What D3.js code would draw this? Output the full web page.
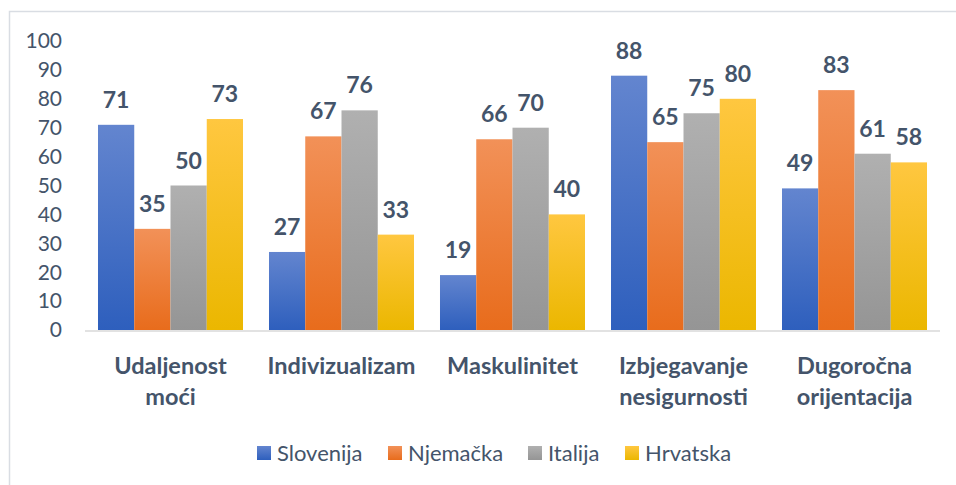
<!DOCTYPE html>
<html lang="hr">
<head>
<meta charset="UTF-8">
<title>Hofstede dimenzije</title>
<script src="https://d3js.org/d3.v7.min.js"></script>
<style>
  body { margin: 0; background: #fff; }
  text { font-family: Lato, "Open Sans", sans-serif; fill: #44546a; }
</style>
</head>
<body>
<svg id="chart"></svg>
<script>
const categories = [["Udaljenost", "moći"], ["Indivizualizam"], ["Maskulinitet"], ["Izbjegavanje", "nesigurnosti"], ["Dugoročna", "orijentacija"]];
const seriesNames = ["Slovenija", "Njemačka", "Italija", "Hrvatska"];
const slovenija = [71, 27, 19, 88, 49];
const njemacka = [35, 67, 66, 65, 83];
const italija = [50, 76, 70, 75, 61];
const hrvatska = [73, 33, 40, 80, 58];
const yTicks = [0, 10, 20, 30, 40, 50, 60, 70, 80, 90, 100];

const seriesValues = [slovenija, njemacka, italija, hrvatska];
// gradient top/bottom per series
const colors = [
  ["#6385cf", "#2e5fbd"],
  ["#f29158", "#e86c1c"],
  ["#b0b0b0", "#959595"],
  ["#ffc740", "#ebb700"]
];

const width = 956, height = 485;
const svg = d3.select("#chart").attr("width", width).attr("height", height);

// frame (only top/left visible)
svg.append("rect")
  .attr("x", 9.5).attr("y", 11.5)
  .attr("width", 1000).attr("height", 600)
  .attr("fill", "none").attr("stroke", "#d9dde3").attr("stroke-width", 1.5);

const defs = svg.append("defs");
colors.forEach((c, i) => {
  const g = defs.append("linearGradient").attr("id", "grad" + i)
    .attr("x1", 0).attr("y1", 0).attr("x2", 0).attr("y2", 1);
  g.append("stop").attr("offset", "0%").attr("stop-color", c[0]);
  g.append("stop").attr("offset", "100%").attr("stop-color", c[1]);
});

const x0 = d3.scaleBand().domain(d3.range(categories.length)).range([85, 940]).paddingInner(0.152).paddingOuter(0.076);
const x1 = d3.scaleBand().domain(d3.range(seriesNames.length)).range([0, x0.bandwidth()]);
const y = d3.scaleLinear().domain([0, 100]).range([330, 41]);

// y axis labels
svg.append("g").selectAll("text").data(yTicks).join("text")
  .attr("x", 62).attr("y", d => y(d)).attr("dy", "0.35em")
  .attr("text-anchor", "end").style("font-size", "21px")
  .text(d => d);

// bars
const groups = svg.append("g").selectAll("g").data(categories).join("g")
  .attr("transform", (d, i) => `translate(${x0(i)},0)`);

groups.each(function (cat, ci) {
  const g = d3.select(this);
  seriesValues.forEach((vals, si) => {
    g.append("rect")
      .attr("x", x1(si)).attr("y", y(vals[ci]))
      .attr("width", x1.bandwidth()).attr("height", y(0) - y(vals[ci]))
      .attr("fill", `url(#grad${si})`);
    g.append("text")
      .attr("x", x1(si) + x1.bandwidth() / 2).attr("y", y(vals[ci]) - 17)
      .attr("text-anchor", "middle")
      .style("font-size", "23px").style("font-weight", "bold")
      .text(vals[ci]);
  });
});

// baseline
svg.append("line")
  .attr("x1", 85).attr("x2", 940).attr("y1", 331).attr("y2", 331)
  .attr("stroke", "#d9d9d9").attr("stroke-width", 1.5);

// category labels
svg.append("g").selectAll("text").data(categories).join("text")
  .attr("text-anchor", "middle")
  .style("font-size", "23.5px").style("font-weight", "bold")
  .each(function (lines, i) {
    d3.select(this).selectAll("tspan").data(lines).join("tspan")
      .attr("x", x0(i) + x0.bandwidth() / 2)
      .attr("y", (d, j) => 374 + j * 31)
      .text(d => d);
  });

// legend
const legendX = [257, 388, 528, 625];
const legend = svg.append("g").selectAll("g").data(seriesNames).join("g")
  .attr("transform", (d, i) => `translate(${legendX[i]},446)`);
legend.append("rect").attr("width", 14).attr("height", 14)
  .attr("fill", (d, i) => `url(#grad${i})`);
legend.append("text").attr("x", 20).attr("y", 7).attr("dy", "0.35em")
  .style("font-size", "22px").text(d => d);
</script>
</body>
</html>
